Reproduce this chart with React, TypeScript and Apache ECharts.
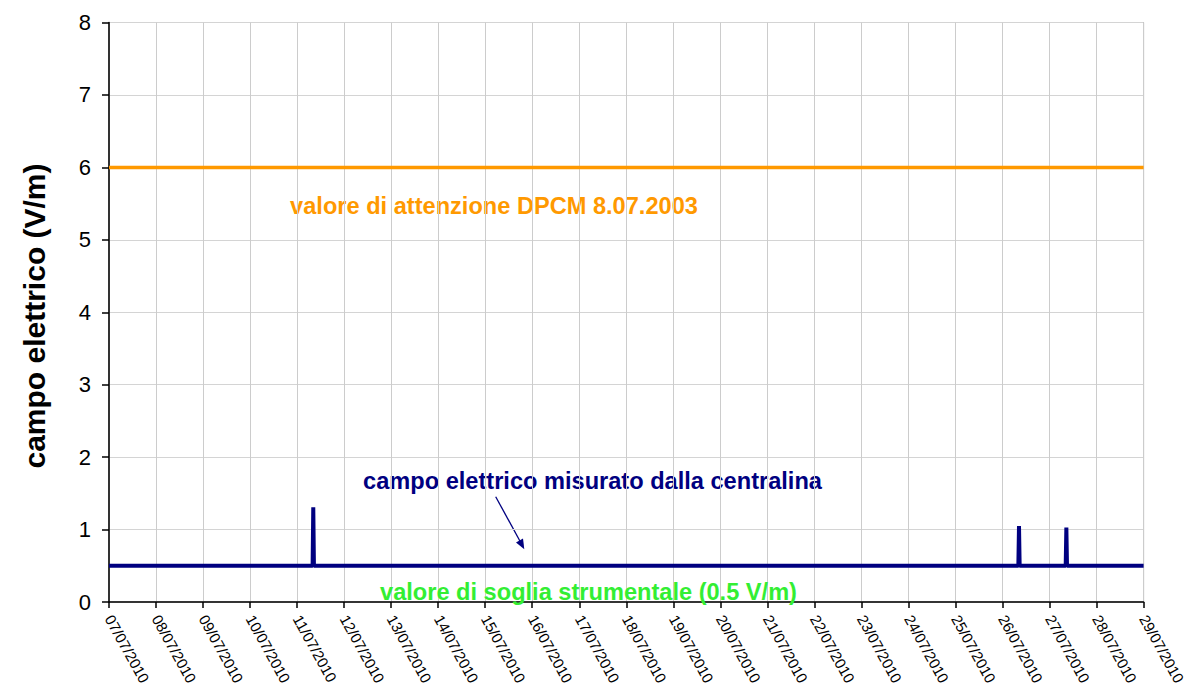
import React, { useEffect, useRef } from "react";
import * as echarts from "echarts";

const DAY = 86400000;
const xStart = Date.UTC(2010, 6, 7);
const xEnd = Date.UTC(2010, 6, 29);

// measured electric field (V/m): time stamps (UTC) and values
const measuredTimes: string[] = [
  "2010-07-07T00:00:00Z",
  "2010-07-11T07:55:00Z",
  "2010-07-11T08:15:00Z",
  "2010-07-11T08:35:00Z",
  "2010-07-26T08:05:00Z",
  "2010-07-26T08:25:00Z",
  "2010-07-26T08:45:00Z",
  "2010-07-27T08:15:00Z",
  "2010-07-27T08:35:00Z",
  "2010-07-27T08:55:00Z",
  "2010-07-29T00:00:00Z",
];
const measuredValues: number[] = [0.5, 0.5, 1.31, 0.5, 0.5, 1.05, 0.5, 0.5, 1.03, 0.5, 0.5];

const attentionValue = 6;
const yTicks: number[] = [0, 1, 2, 3, 4, 5, 6, 7, 8];

const texts = {
  yName: "campo elettrico (V/m)",
  attention: "valore di attenzione DPCM 8.07.2003",
  measured: "campo elettrico misurato dalla centralina",
  threshold: "valore di soglia strumentale (0.5 V/m)",
};

const FONT = "'Liberation Sans', Arial, sans-serif";

function fmtDate(v: number): string {
  const d = new Date(v);
  const dd = String(d.getUTCDate()).padStart(2, "0");
  const mm = String(d.getUTCMonth() + 1).padStart(2, "0");
  return `${dd}/${mm}/${d.getUTCFullYear()}`;
}

export default function App() {
  const ref = useRef<HTMLDivElement>(null);
  useEffect(() => {
    if (!ref.current) return;
    const chart = echarts.init(ref.current, undefined, { renderer: "svg" });
    const measured = measuredTimes.map((t, i) => [Date.parse(t), measuredValues[i]]);
    const attention = [
      [xStart, attentionValue],
      [xEnd, attentionValue],
    ];
    chart.setOption({
      animation: false,
      backgroundColor: "#ffffff",
      grid: {
        left: 109,
        right: 39.3,
        top: 22.5,
        bottom: 85,
        show: true,
        borderColor: "#8c8c8c",
        borderWidth: 1,
      },
      xAxis: {
        type: "value",
        min: xStart,
        max: xEnd,
        interval: DAY,
        axisLine: { show: true, onZero: false, lineStyle: { color: "#000", width: 1.5 } },
        axisTick: { show: true, length: 6, lineStyle: { color: "#000", width: 1.5 } },
        splitLine: { show: true, lineStyle: { color: "#cccccc", width: 1 } },
        axisLabel: {
          rotate: -61,
          margin: 14,
          fontSize: 15,
          fontFamily: FONT,
          color: "#000",
          showMinLabel: true,
          showMaxLabel: true,
          formatter: (v: number) => fmtDate(v),
        },
      },
      yAxis: {
        type: "value",
        min: yTicks[0],
        max: yTicks[yTicks.length - 1],
        interval: 1,
        axisLine: { show: true, lineStyle: { color: "#000", width: 1.5 } },
        axisTick: { show: true, length: 7, lineStyle: { color: "#000", width: 1.5 } },
        splitLine: { show: true, lineStyle: { color: "#d4d4d4", width: 1 } },
        axisLabel: {
          margin: 18,
          fontSize: 22,
          fontFamily: FONT,
          color: "#000",
        },
      },
      series: [
        {
          name: "attenzione",
          type: "line",
          data: attention,
          symbol: "none",
          lineStyle: { color: "#ff9900", width: 3.5 },
          z: 3,
        },
        {
          name: "campo elettrico",
          type: "line",
          data: measured,
          symbol: "none",
          lineStyle: { color: "#000080", width: 4, join: "bevel", cap: "butt" },
          z: 4,
        },
      ],
      graphic: [
        {
          type: "text",
          x: 34,
          y: 316,
          rotation: Math.PI / 2,
          style: {
            text: texts.yName,
            fontSize: 30,
            fontWeight: "bold",
            fontFamily: FONT,
            fill: "#000",
            align: "center",
            verticalAlign: "middle",
          },
        },
        {
          type: "text",
          x: 494,
          y: 206,
          style: {
            text: texts.attention,
            fontSize: 23.6,
            fontWeight: "bold",
            fontFamily: FONT,
            fill: "#ff9900",
            align: "center",
            verticalAlign: "middle",
          },
        },
        {
          type: "text",
          x: 592.5,
          y: 481,
          style: {
            text: texts.measured,
            fontSize: 23.6,
            fontWeight: "bold",
            fontFamily: FONT,
            fill: "#000080",
            align: "center",
            verticalAlign: "middle",
          },
        },
        {
          type: "text",
          x: 588.5,
          y: 592,
          z: 10,
          style: {
            text: texts.threshold,
            fontSize: 23.6,
            fontWeight: "bold",
            fontFamily: FONT,
            fill: "#33ee33",
            align: "center",
            verticalAlign: "middle",
          },
        },
        {
          type: "line",
          shape: { x1: 495.7, y1: 496.7, x2: 521, y2: 543 },
          style: { stroke: "#000080", lineWidth: 1.3 },
        },
        {
          type: "polygon",
          shape: {
            points: [
              [524.3, 549.3],
              [516, 542.4],
              [523, 538.6],
            ],
          },
          style: { fill: "#000080" },
        },
      ],
    });
    return () => chart.dispose();
  }, []);
  return (
    <div
      ref={ref}
      style={{ position: "absolute", left: 0, top: 0, width: 1188, height: 688 }}
    />
  );
}
